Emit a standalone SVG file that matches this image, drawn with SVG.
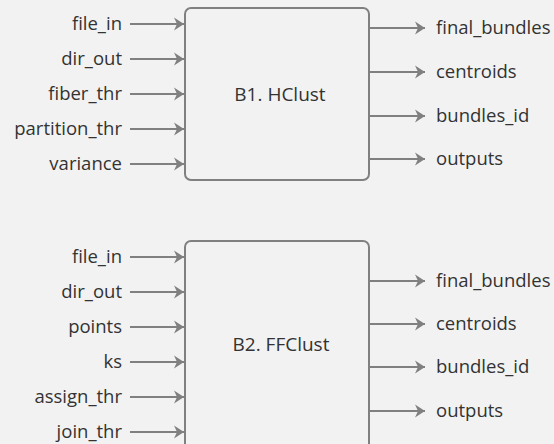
<svg xmlns="http://www.w3.org/2000/svg" width="554" height="444" viewBox="0 0 554 444">
  <defs>
    <marker id="head" viewBox="-11 -8 12 16" markerWidth="12" markerHeight="16" refX="0" refY="0" orient="auto" markerUnits="userSpaceOnUse">
      <path d="M-10,-6.5 L0,0 L-10,6.5 L-7,0 Z" fill="#808080"/>
    </marker>
    <style>
      .bg { fill: #f2f2f2; }
      .box { fill: #f2f2f2; stroke: #808080; stroke-width: 2; }
      .wire { stroke: #808080; stroke-width: 2; fill: none; marker-end: url(#head); }
      .lbl { font-family: "Open Sans", "Liberation Sans", sans-serif; font-size: 18.5px; fill: #333333; }
      .in { text-anchor: end; }
      .title { font-family: "Open Sans", "Liberation Sans", sans-serif; font-size: 19px; fill: #333333; text-anchor: middle; }
    </style>
  </defs>
  <rect class="bg" x="0" y="0" width="554" height="444"/>

  <!-- Block B1 -->
  <g id="b1">
    <rect class="box" x="185" y="8" width="184" height="172" rx="6"/>
    <text class="title" x="280" y="101">B1. HClust</text>
  </g>
  <g id="b1-inputs" class="lbl in">
    <text x="122" y="30">file_in</text>
    <text x="122" y="65">dir_out</text>
    <text x="122" y="100">fiber_thr</text>
    <text x="122" y="135">partition_thr</text>
    <text x="122" y="170">variance</text>
  </g>
  <g id="b1-outputs" class="lbl">
    <text x="436" y="34">final_bundles</text>
    <text x="436" y="78">centroids</text>
    <text x="436" y="122">bundles_id</text>
    <text x="436" y="165">outputs</text>
  </g>

  <!-- Block B2 -->
  <g id="b2">
    <rect class="box" x="185" y="241" width="184" height="220" rx="6"/>
    <text class="title" x="281" y="351">B2. FFClust</text>
  </g>
  <g id="b2-inputs" class="lbl in">
    <text x="122" y="263">file_in</text>
    <text x="122" y="298">dir_out</text>
    <text x="122" y="333">points</text>
    <text x="122" y="368">ks</text>
    <text x="122" y="403">assign_thr</text>
    <text x="122" y="438">join_thr</text>
  </g>
  <g id="b2-outputs" class="lbl">
    <text x="436" y="287">final_bundles</text>
    <text x="436" y="330">centroids</text>
    <text x="436" y="373">bundles_id</text>
    <text x="436" y="417">outputs</text>
  </g>

  <!-- Connectors -->
  <g id="connectors">
    <path class="wire" d="M130,24 H184"/>
    <path class="wire" d="M130,59 H184"/>
    <path class="wire" d="M130,94 H184"/>
    <path class="wire" d="M130,129 H184"/>
    <path class="wire" d="M130,164 H184"/>
    <path class="wire" d="M370,28 H425"/>
    <path class="wire" d="M370,72 H425"/>
    <path class="wire" d="M370,116 H425"/>
    <path class="wire" d="M370,159 H425"/>

    <path class="wire" d="M130,257 H184"/>
    <path class="wire" d="M130,292 H184"/>
    <path class="wire" d="M130,327 H184"/>
    <path class="wire" d="M130,362 H184"/>
    <path class="wire" d="M130,397 H184"/>
    <path class="wire" d="M130,432 H184"/>
    <path class="wire" d="M370,281 H425"/>
    <path class="wire" d="M370,324 H425"/>
    <path class="wire" d="M370,367 H425"/>
    <path class="wire" d="M370,411 H425"/>
  </g>
</svg>
